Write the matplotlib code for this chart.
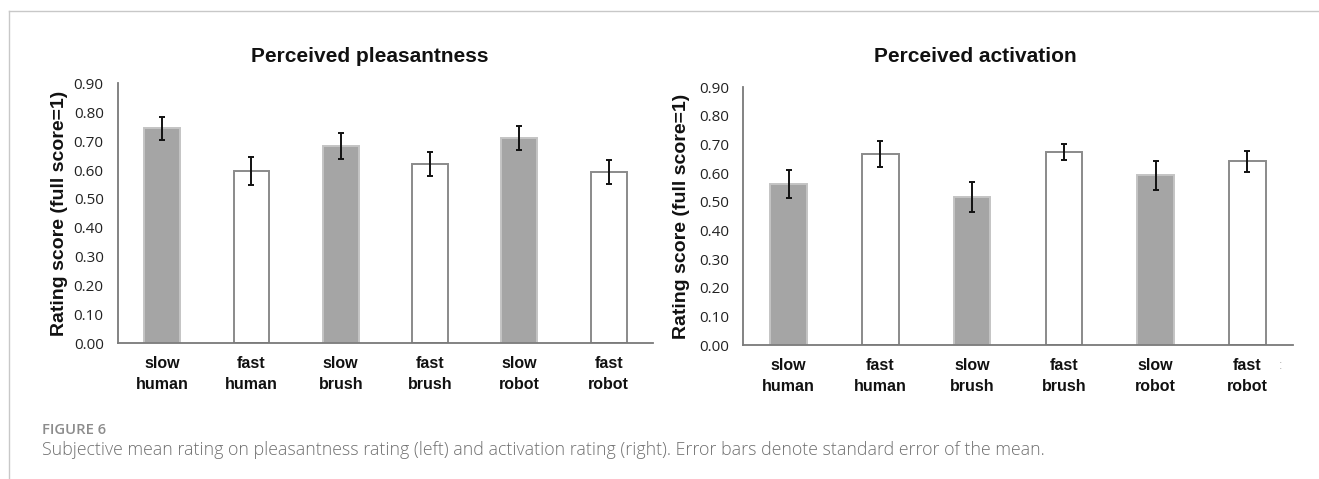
import matplotlib
matplotlib.use('Agg')
import matplotlib.pyplot as plt
from matplotlib.lines import Line2D
import numpy as np

plt.rcParams.update({
    'font.family': 'sans-serif',
    'font.sans-serif': ['Liberation Sans', 'DejaVu Sans'],
})

# Data
categories = ['slow\nhuman', 'fast\nhuman', 'slow\nbrush', 'fast\nbrush', 'slow\nrobot', 'fast\nrobot']
pleasant = [0.745, 0.597, 0.683, 0.620, 0.710, 0.593]
pleasant_err = [0.040, 0.050, 0.045, 0.042, 0.042, 0.042]
activation = [0.563, 0.667, 0.517, 0.675, 0.593, 0.641]
activation_err = [0.050, 0.045, 0.052, 0.028, 0.050, 0.037]
yticks = [0.0, 0.1, 0.2, 0.3, 0.4, 0.5, 0.6, 0.7, 0.8, 0.9]

slow_c = '#a5a5a5'
edge_gray = '#8a8a8a'

fig = plt.figure(figsize=(13.19, 4.79), dpi=100)
ax1 = fig.add_axes([0.0891, 0.2833, 0.4062, 0.5424])
ax2 = fig.add_axes([0.5631, 0.2797, 0.4174, 0.5380])


def draw_panel(ax, vals, errs, label_x):
    x = np.arange(len(categories))
    face = [slow_c if i % 2 == 0 else 'white' for i in x]
    edge = ['#c4c4c4' if i % 2 == 0 else edge_gray for i in x]
    ax.bar(x, vals, width=0.40, color=face, edgecolor=edge, linewidth=1.4, zorder=2)
    ax.errorbar(x, vals, yerr=errs, fmt='none', ecolor='#111111', elinewidth=1.4,
                capsize=2.0, capthick=1.4, zorder=3)
    ax.set_xlim(-0.5, len(categories) - 0.5)
    ax.set_ylim(0, 0.9)
    ax.set_yticks(yticks)
    ax.set_yticklabels(['%.2f' % t for t in yticks], fontsize=11, color='#222222',
                       family='Open Sans')
    ax.set_xticks(x)
    ax.set_xticklabels(categories, fontsize=11.5, fontweight='bold', color='#111111',
                       linespacing=1.45)
    ax.tick_params(axis='y', length=0, pad=10)
    ax.tick_params(axis='x', length=0, pad=9.5)
    for s in ['top', 'right']:
        ax.spines[s].set_visible(False)
    for s in ['left', 'bottom']:
        ax.spines[s].set_color('#7a7a7a')
        ax.spines[s].set_linewidth(1.3)
    ax.set_ylabel('Rating score (full score=1)', fontsize=14, fontweight='bold',
                  color='#111111', va='center')
    ax.yaxis.set_label_coords(label_x, 0.5)


draw_panel(ax1, pleasant, pleasant_err, -0.109)
draw_panel(ax2, activation, activation_err, -0.112)

fig.text(370 / 1319, 1 - 56 / 479, 'Perceived pleasantness', ha='center', va='center',
         fontsize=15, fontweight='bold', color='#111111')
fig.text(975 / 1319, 1 - 56 / 479, 'Perceived activation', ha='center', va='center',
         fontsize=15, fontweight='bold', color='#111111')

# stray mark next to the right panel's last label
fig.text(1281 / 1319, 1 - 366 / 479, ':', ha='center', va='center', fontsize=9,
         color='#b0b0b0')

# caption
fig.text(42 / 1319, 1 - 430 / 479, 'FIGURE 6', ha='left', va='center', fontsize=10.7,
         fontweight='semibold', color='#8c8c8c', family='Open Sans')
fig.text(42 / 1319, 1 - 450 / 479,
         'Subjective mean rating on pleasantness rating (left) and activation rating (right). '
         'Error bars denote standard error of the mean.',
         ha='left', va='center', fontsize=12.8, fontweight='light', color='#707070',
         family='Open Sans')

# frame lines of the page
fig.add_artist(Line2D([9 / 1319, 1], [1 - 11 / 479, 1 - 11 / 479], color='#c8c8c8', lw=1.0,
                      transform=fig.transFigure))
fig.add_artist(Line2D([9 / 1319, 9 / 1319], [0, 1 - 11 / 479], color='#c8c8c8', lw=1.0,
                      transform=fig.transFigure))

fig.savefig('out.png', dpi=100)
